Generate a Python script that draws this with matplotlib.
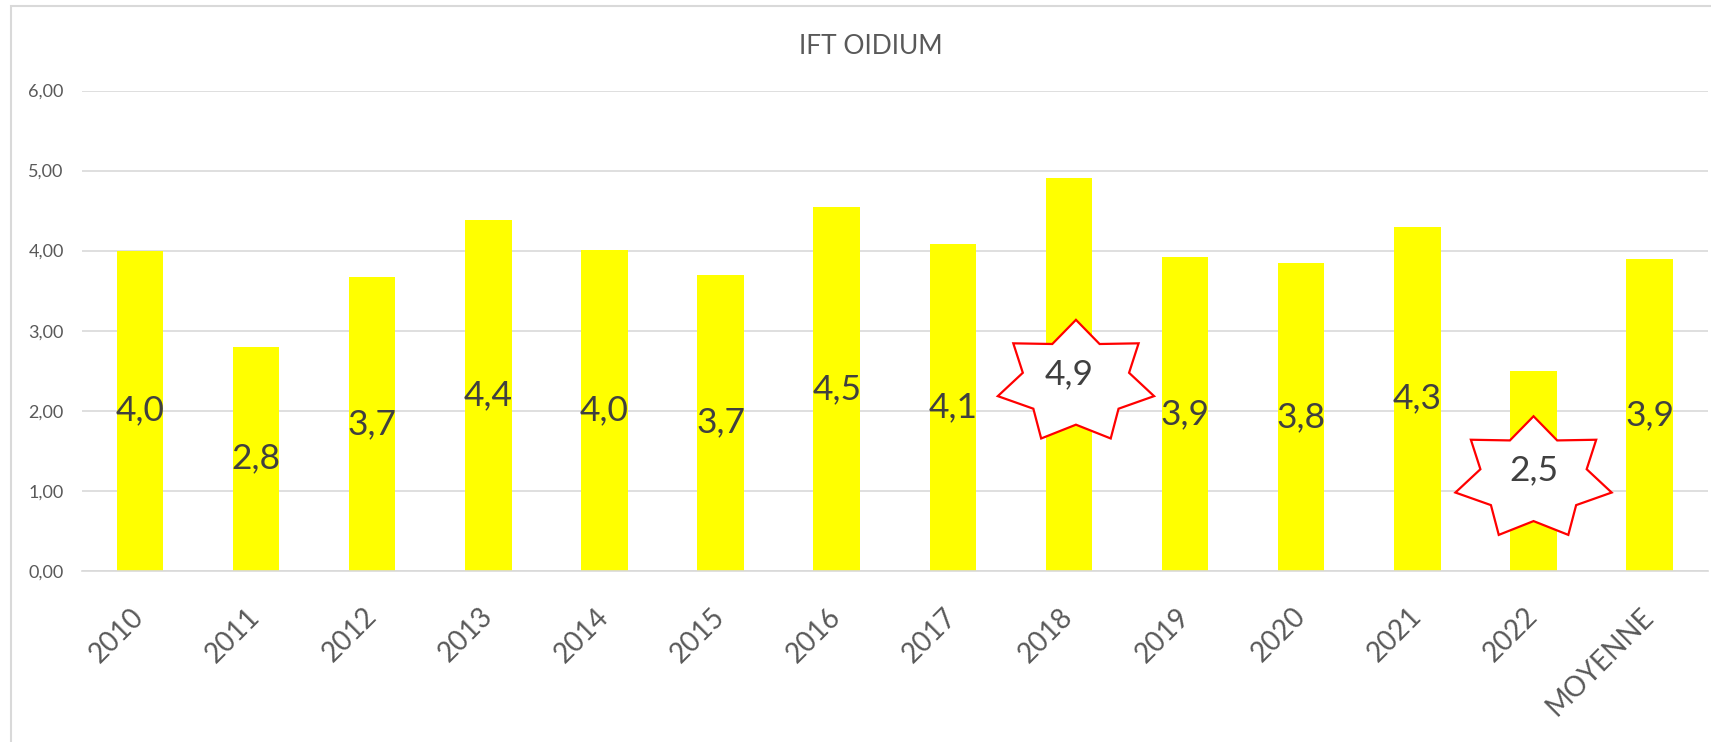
import numpy as np
import matplotlib
matplotlib.use("Agg")
import matplotlib.pyplot as plt
from matplotlib.patches import Polygon, Rectangle

plt.rcParams['font.family'] = ['Lato', 'DejaVu Sans']

# data
categories = ['2010', '2011', '2012', '2013', '2014', '2015', '2016',
              '2017', '2018', '2019', '2020', '2021', '2022', 'MOYENNE']
ift = [4.00, 2.80, 3.67, 4.38, 4.01, 3.70, 4.54,
       4.08, 4.91, 3.92, 3.84, 4.30, 2.50, 3.89]
highlighted = ['2018', '2022']
yticks = [0, 1, 2, 3, 4, 5, 6]


def star(cx, cy, rx, ry, n=7, inner=0.68):
    pts = []
    for k in range(2 * n):
        a = np.pi / 2 + k * np.pi / n
        r = 1.0 if k % 2 == 0 else inner
        pts.append((cx + rx * r * np.cos(a), cy + ry * r * np.sin(a)))
    return pts


fig = plt.figure(figsize=(17.11, 7.42), dpi=100)
ax = fig.add_axes([0.0478, 0.2309, 0.9503, 0.647])

x = np.arange(len(categories))
ax.bar(x, ift, width=0.4, color='#FFFF00', zorder=2)

ax.set_xlim(-0.5, len(categories) - 0.5)
ax.set_ylim(0, 6)
ax.set_yticks(yticks)
ax.set_yticklabels([('%.2f' % t).replace('.', ',') for t in yticks])
ax.yaxis.set_tick_params(length=0, pad=13, labelsize=13, labelcolor='#595959')
ax.yaxis.grid(True, color='#D9D9D9', lw=1.2, zorder=0)
ax.set_axisbelow(True)
for s in ['top', 'right', 'left']:
    ax.spines[s].set_visible(False)
ax.spines['bottom'].set_color('#D9D9D9')
ax.spines['bottom'].set_linewidth(1.2)

ax.set_xticks(x)
ax.set_xticklabels(categories, rotation=45, ha='right', va='center',
                   rotation_mode='anchor', fontsize=20, color='#595959')
ax.xaxis.set_tick_params(length=0, pad=30)

# stars behind the labels of the highlighted years
star_dx = [0.06, 0.0]
for name, dx in zip(highlighted, star_dx):
    i = categories.index(name)
    v = ift[i]
    pts = star(i + dx, v / 2 - 0.1, 0.69, 0.78)
    ax.add_patch(Polygon(pts, closed=True, facecolor='white',
                         edgecolor='#FF0000', lw=1.6, zorder=3))

for xi, v in zip(x, ift):
    ax.text(xi, v / 2, ('%.1f' % v).replace('.', ','), ha='center', va='center',
            fontsize=25.5, color='#404040', zorder=4)

fig.text(871 / 1711, 1 - 54 / 742, 'IFT OIDIUM', ha='center', va='baseline',
         fontsize=19, color='#595959')

# chart area border
fig.add_artist(Rectangle((11 / 1711, -0.1), 1.2, 1.1 - 6 / 742, fill=False,
                         edgecolor='#D9D9D9', lw=1.5, transform=fig.transFigure))

fig.savefig('out.png', dpi=100)
